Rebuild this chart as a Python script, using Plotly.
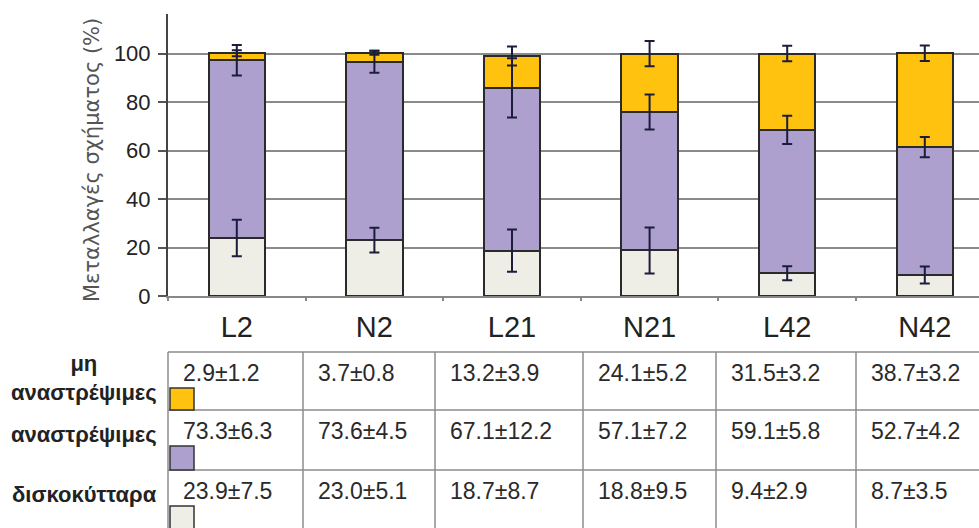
import plotly.graph_objects as go

# Shape-change groups (x categories)
categories = ["L2", "N2", "L21", "N21", "L42", "N42"]

# Mean percentages and standard deviations per group
irreversible = [2.9, 3.7, 13.2, 24.1, 31.5, 38.7]
irreversible_sd = [1.2, 0.8, 3.9, 5.2, 3.2, 3.2]
reversible = [73.3, 73.6, 67.1, 57.1, 59.1, 52.7]
reversible_sd = [6.3, 4.5, 12.2, 7.2, 5.8, 4.2]
discocytes = [23.9, 23.0, 18.7, 18.8, 9.4, 8.7]
discocytes_sd = [7.5, 5.1, 8.7, 9.5, 2.9, 3.5]

row_labels = ["μη<br>αναστρέψιμες", "αναστρέψιμες", "δισκοκύτταρα"]
y_ticks = [0, 20, 40, 60, 80, 100]
y_title = "Μεταλλαγές σχήματος (%)"

# Styling
W, H = 979, 528
M_L, M_R, M_T, M_B = 168, 0, 14, 232
PLOT_W = W - M_L - M_R
PLOT_H = H - M_T - M_B
Y_TOP = 116.3
CAT_PX = 137.6
FONT = "Liberation Sans, Arial, sans-serif"

C_IRR = "#FFC20E"
C_REV = "#ADA0CF"
C_DISC = "#EEEEE6"
C_EDGE = "#2a2a2a"
C_ERR = "#1c1c3c"
C_TABLE = "#8c8c8c"


def px_x(p):
    return (p - M_L) / PLOT_W


def px_y(p):
    return (M_T + PLOT_H - p) / PLOT_H


fig = go.Figure()

series = [
    (discocytes, discocytes_sd, C_DISC),
    (reversible, reversible_sd, C_REV),
    (irreversible, irreversible_sd, C_IRR),
]

# Stacked bars
for vals, _, col in series:
    fig.add_trace(go.Bar(
        x=categories, y=vals, width=0.41,
        marker=dict(color=col, line=dict(color=C_EDGE, width=2)),
        showlegend=False, hoverinfo="skip",
    ))

# Error bars at the top of each stacked segment (drawn above all bars)
cum = [0.0] * len(categories)
for vals, sds, _ in series:
    cum = [c + v for c, v in zip(cum, vals)]
    fig.add_trace(go.Scatter(
        x=categories, y=list(cum), mode="markers",
        marker=dict(size=1, opacity=0),
        error_y=dict(type="data", array=sds, color=C_ERR, thickness=2, width=5),
        showlegend=False, hoverinfo="skip",
    ))

shapes = []
annotations = []

# Data table under the chart
col_edges = [168, 303, 435, 583, 716, 856, 995]
row_edges = [352, 410, 470, 530]
for r in row_edges[:-1]:
    shapes.append(dict(type="line", xref="paper", yref="paper",
                       x0=px_x(col_edges[0]), x1=px_x(W + 5),
                       y0=px_y(r), y1=px_y(r),
                       line=dict(color=C_TABLE, width=1.5)))
for c in col_edges:
    shapes.append(dict(type="line", xref="paper", yref="paper",
                       x0=px_x(c), x1=px_x(c),
                       y0=px_y(row_edges[0]), y1=px_y(H + 5),
                       line=dict(color=C_TABLE, width=1.5)))

table_rows = [
    (irreversible, irreversible_sd, C_IRR),
    (reversible, reversible_sd, C_REV),
    (discocytes, discocytes_sd, C_DISC),
]
for i, (vals, sds, col) in enumerate(table_rows):
    top, bottom = row_edges[i], row_edges[i + 1]
    # legend key in the first cell of each row
    shapes.append(dict(type="rect", xref="paper", yref="paper",
                       x0=px_x(170), x1=px_x(194),
                       y0=px_y(top + 36), y1=px_y(bottom),
                       fillcolor=col, line=dict(color="#333", width=1.5)))
    for j, (v, s) in enumerate(zip(vals, sds)):
        annotations.append(dict(
            xref="paper", yref="paper",
            x=px_x(col_edges[j] + 13), y=px_y(top + 21),
            xanchor="left", yanchor="middle", showarrow=False,
            text=f"{v:.1f}±{s:.1f}",
            font=dict(family=FONT, size=23, color="#2a2a2a"),
        ))

# Row headers
row_label_y = [378, 434, 494]
for lab, yy in zip(row_labels, row_label_y):
    annotations.append(dict(
        xref="paper", yref="paper", x=px_x(84), y=px_y(yy),
        xanchor="center", yanchor="middle", align="center", showarrow=False,
        text=f"<b>{lab}</b>",
        font=dict(family=FONT, size=22, color="#222"),
    ))

# Y-axis title
annotations.append(dict(
    xref="paper", yref="paper", x=px_x(92), y=px_y(160),
    xanchor="center", yanchor="middle", textangle=-90, showarrow=False,
    text=y_title,
    font=dict(family="DejaVu Sans, sans-serif", size=21, color="#555"),
))

fig.update_layout(
    width=W, height=H,
    margin=dict(l=M_L, r=M_R, t=M_T, b=M_B, pad=0),
    paper_bgcolor="white", plot_bgcolor="white",
    barmode="stack", bargap=0.5,
    shapes=shapes, annotations=annotations,
    xaxis=dict(
        type="category",
        range=[-0.5, -0.5 + PLOT_W / CAT_PX],
        showline=True, linecolor="#888", linewidth=1.5,
        ticks="outside", tickson="boundaries", ticklen=3,
        tickcolor="#888", tickwidth=1.5,
        showgrid=False, zeroline=False,
        tickfont=dict(family=FONT, size=29, color="#222"),
        ticklabelstandoff=4,
    ),
    yaxis=dict(
        range=[0, Y_TOP],
        tickvals=y_ticks,
        showline=True, linecolor="#444", linewidth=2,
        ticks="outside", ticklen=8, tickcolor="#555", tickwidth=1.5,
        showgrid=True, gridcolor="#8a8a8a", gridwidth=1.5,
        zeroline=False,
        tickfont=dict(family=FONT, size=22, color="#222"),
        ticklabelstandoff=3,
    ),
)

fig.write_html("out.html")
